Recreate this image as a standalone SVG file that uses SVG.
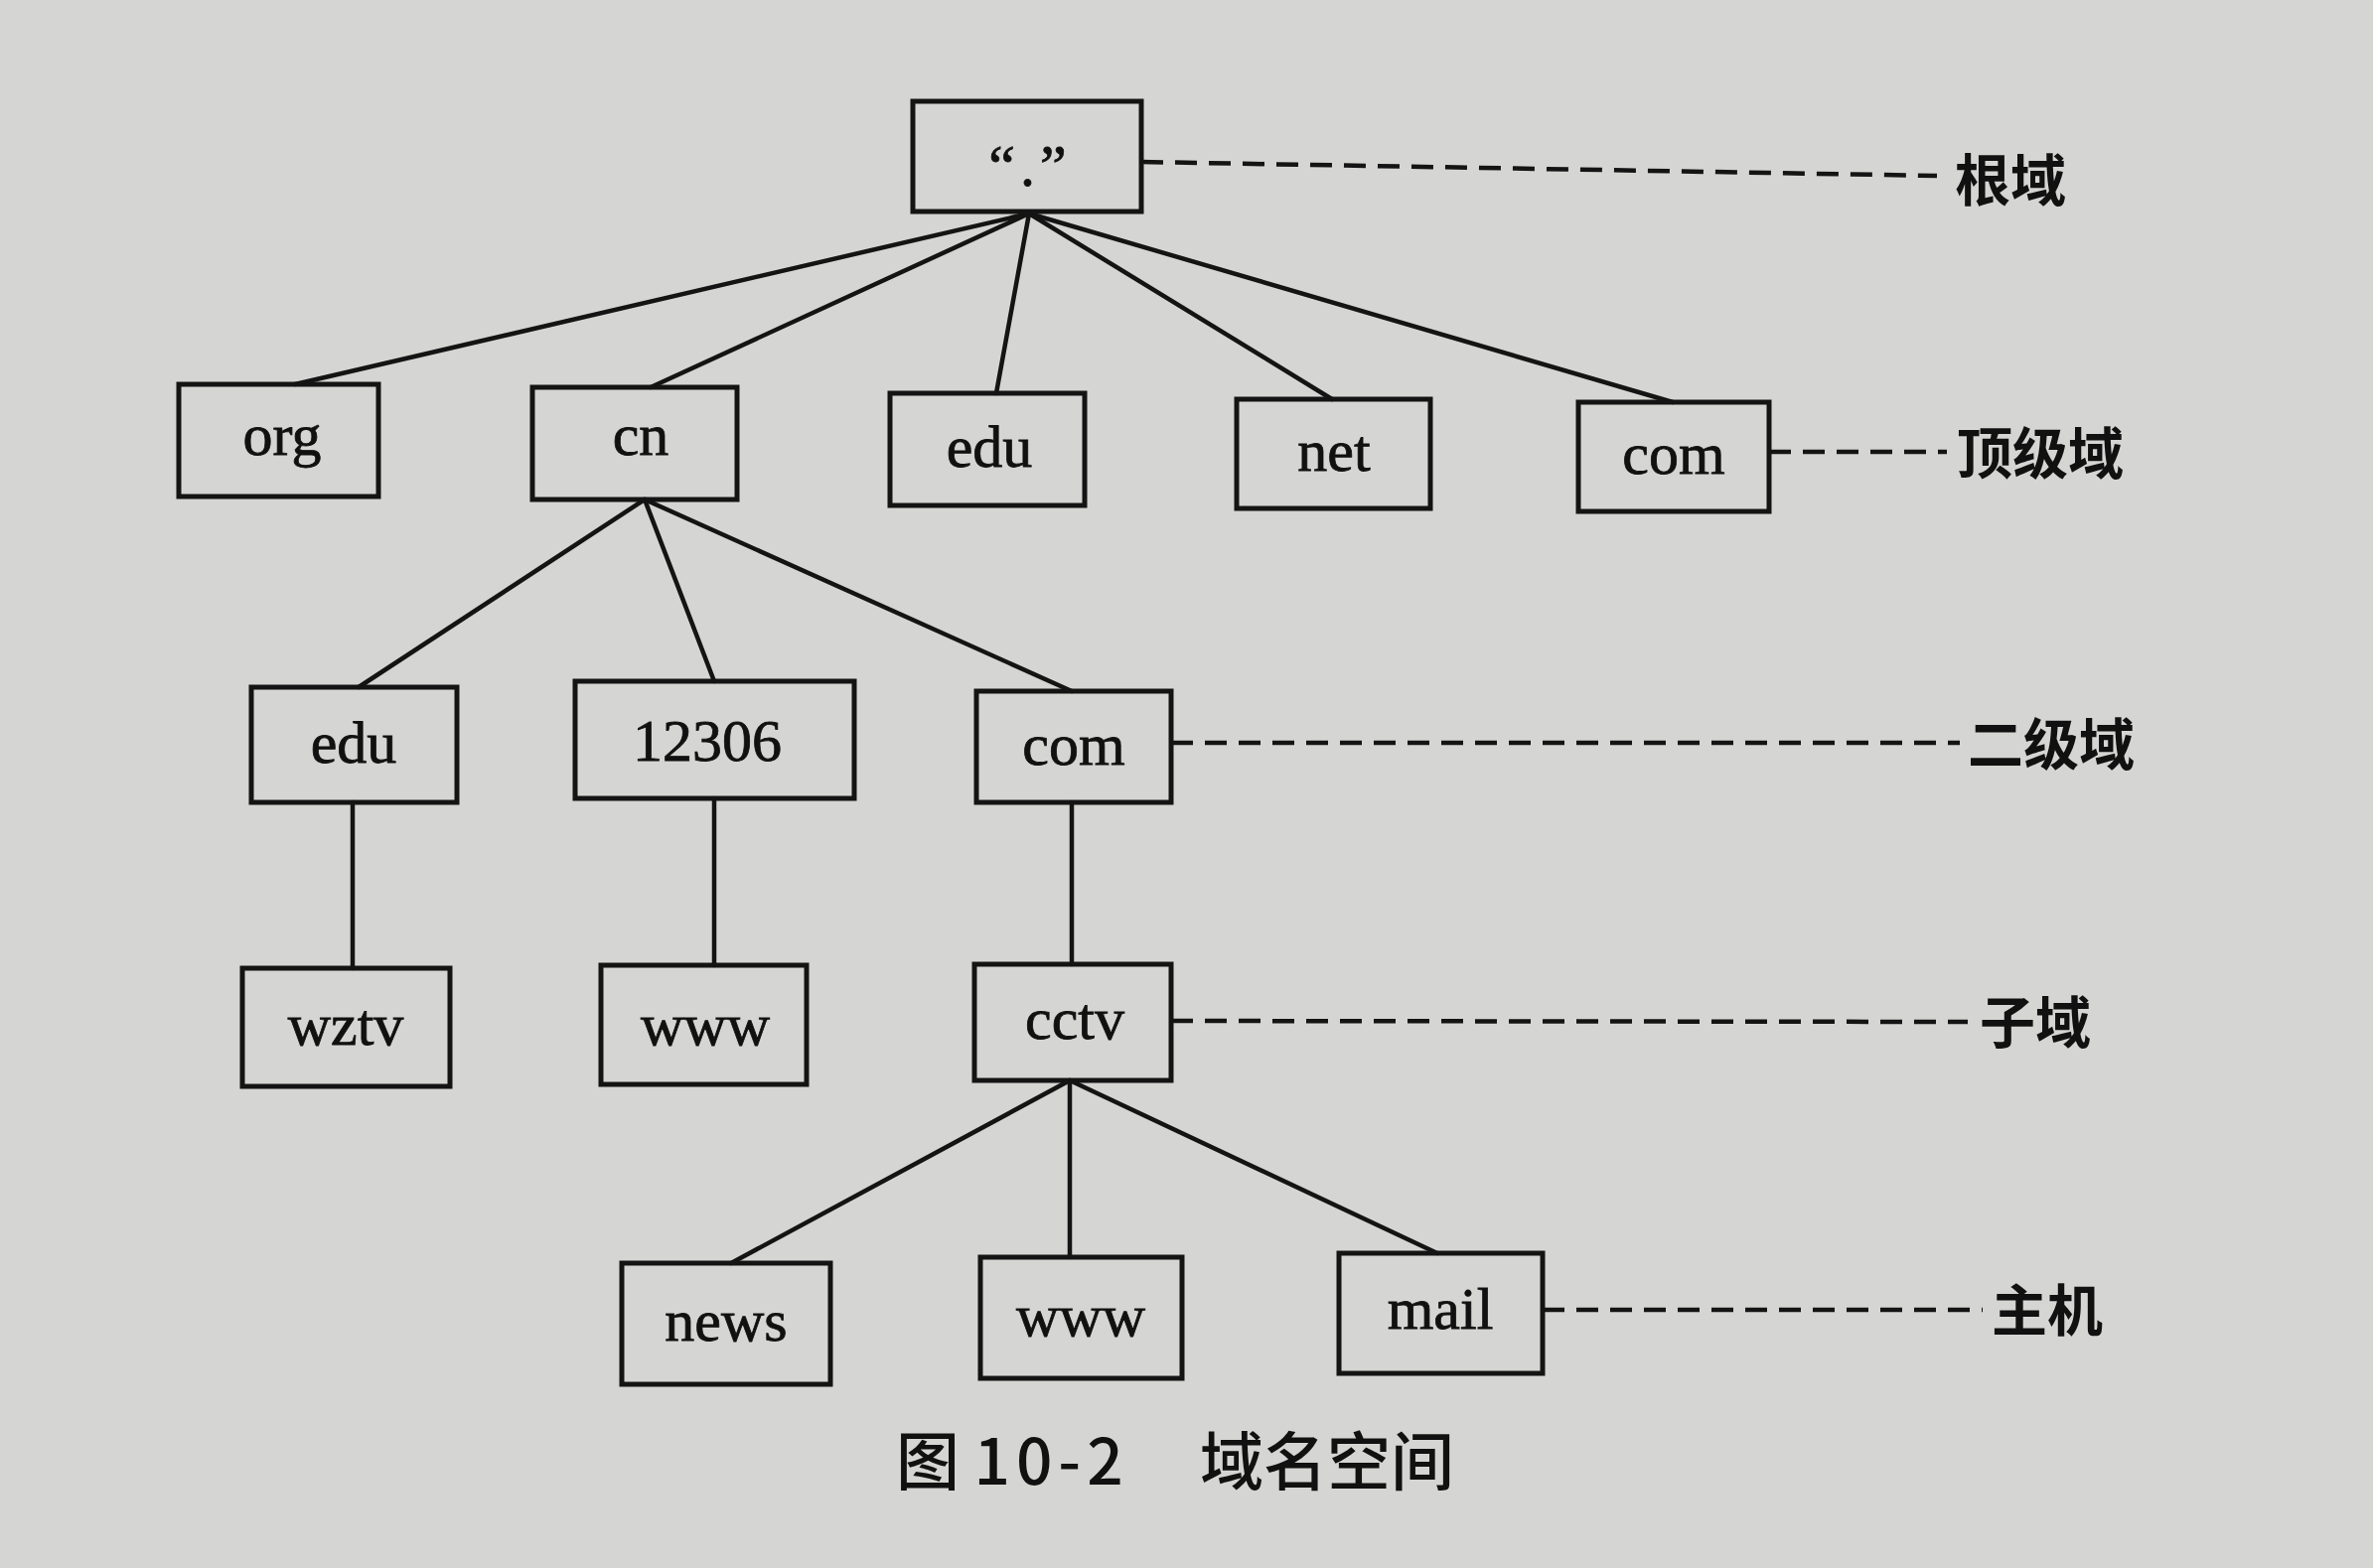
<svg xmlns="http://www.w3.org/2000/svg" width="2389" height="1579" viewBox="0 0 2389 1579">
<style>
.box{fill:none;stroke:#141414;stroke-width:5}
.ln{stroke:#141414;stroke-width:4.5;fill:none;stroke-linecap:round}
.dash{stroke:#141414;stroke-width:4.5;fill:none;stroke-dasharray:22 12}
.t{font-family:"Liberation Serif","Times New Roman",serif;font-size:60px;fill:#111;stroke:#111;stroke-width:0.8;text-anchor:middle}
.lab{font-family:"Noto Sans CJK SC","Noto Sans",sans-serif;font-size:56px;font-weight:700;fill:#111}
.cap{font-family:"Noto Sans CJK SC","Noto Sans",sans-serif;font-size:64px;font-weight:500;fill:#111}
</style>
<rect width="2389" height="1579" fill="#d5d5d3"/>
<g id="connectors">
<line class="ln" x1="1036" y1="215" x2="297" y2="387"/>
<line class="ln" x1="1036" y1="215" x2="655" y2="390"/>
<line class="ln" x1="1036" y1="215" x2="1003" y2="396"/>
<line class="ln" x1="1036" y1="215" x2="1341" y2="402"/>
<line class="ln" x1="1036" y1="215" x2="1684" y2="405"/>
<line class="ln" x1="649" y1="503" x2="361" y2="692"/>
<line class="ln" x1="649" y1="503" x2="719" y2="686"/>
<line class="ln" x1="649" y1="503" x2="1079" y2="696"/>
<line class="ln" x1="355" y1="808" x2="355" y2="975"/>
<line class="ln" x1="719" y1="804" x2="719" y2="972"/>
<line class="ln" x1="1079" y1="808" x2="1079" y2="971"/>
<line class="ln" x1="1077" y1="1088" x2="736" y2="1272"/>
<line class="ln" x1="1077" y1="1088" x2="1077" y2="1266"/>
<line class="ln" x1="1077" y1="1088" x2="1447" y2="1262"/>
<line class="dash" x1="1149" y1="163" x2="1950" y2="177"/>
<line class="dash" x1="1781" y1="455" x2="1960" y2="455"/>
<line class="dash" x1="1179" y1="748" x2="1973" y2="748"/>
<line class="dash" x1="1179" y1="1028" x2="1981" y2="1029"/>
<line class="dash" x1="1553" y1="1319" x2="1996" y2="1319"/>
</g>
<g id="root"><rect class="box" x="919" y="102" width="230" height="111"/><text class="t" x="1037" y="187" letter-spacing="5">“.”</text></g>
<g id="org"><rect class="box" x="180" y="387" width="201" height="113"/><text class="t" x="284" y="458">org</text></g>
<g id="cn"><rect class="box" x="536" y="390" width="206" height="113"/><text class="t" x="645" y="458">cn</text></g>
<g id="edu"><rect class="box" x="896" y="396" width="196" height="113"/><text class="t" x="996" y="470">edu</text></g>
<g id="net"><rect class="box" x="1245" y="402" width="195" height="110"/><text class="t" x="1343" y="474">net</text></g>
<g id="com"><rect class="box" x="1589" y="405" width="192" height="110"/><text class="t" x="1685" y="477">com</text></g>
<g id="edu2"><rect class="box" x="253" y="692" width="207" height="116"/><text class="t" x="356" y="768">edu</text></g>
<g id="n12306"><rect class="box" x="579" y="686" width="281" height="118"/><text class="t" x="712" y="766">12306</text></g>
<g id="com2"><rect class="box" x="983" y="696" width="196" height="112"/><text class="t" x="1081" y="770">com</text></g>
<g id="wztv"><rect class="box" x="244" y="975" width="209" height="119"/><text class="t" x="348" y="1052">wztv</text></g>
<g id="www1"><rect class="box" x="605" y="972" width="207" height="120"/><text class="t" x="710" y="1052">www</text></g>
<g id="cctv"><rect class="box" x="981" y="971" width="198" height="117"/><text class="t" x="1082" y="1046">cctv</text></g>
<g id="news"><rect class="box" x="626" y="1272" width="210" height="122"/><text class="t" x="731" y="1350">news</text></g>
<g id="www2"><rect class="box" x="987" y="1266" width="203" height="122"/><text class="t" x="1088" y="1345">www</text></g>
<g id="mail"><rect class="box" x="1348" y="1262" width="205" height="121"/><text class="t" x="1450" y="1338">mail</text></g>
<g id="labels">
<text class="lab" x="1968" y="202">根域</text>
<text class="lab" x="1970" y="477">顶级域</text>
<text class="lab" x="1981" y="770">二级域</text>
<text class="lab" x="1993" y="1050">子域</text>
<text class="lab" x="2005" y="1340">主机</text>
</g>
<text class="cap" x="902" y="1495">图 <tspan letter-spacing="6">10-2</tspan><tspan x="1208">域名空间</tspan></text>
</svg>
